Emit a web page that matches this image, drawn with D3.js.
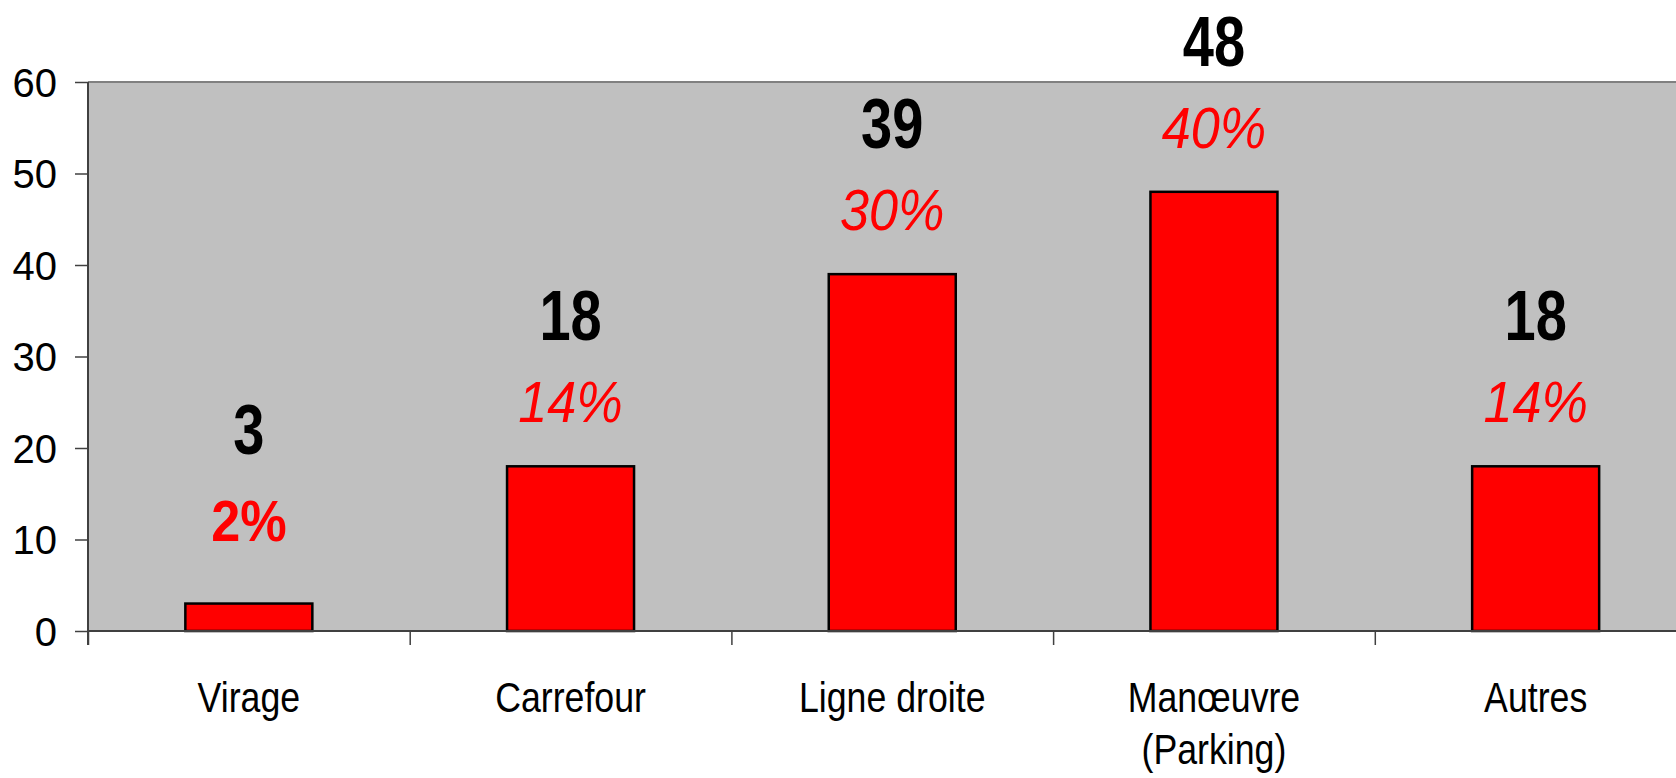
<!DOCTYPE html>
<html>
<head>
<meta charset="utf-8">
<script src="https://cdn.jsdelivr.net/npm/d3@7"></script>
<style>
  html, body { margin: 0; padding: 0; background: #fff; }
  svg { display: block; }
  text { font-family: "Liberation Sans", Arial, sans-serif; }
</style>
</head>
<body>
<div id="chart"></div>
<script>
// data
const categories = ["Virage", "Carrefour", "Ligne droite", "Manœuvre\n(Parking)", "Autres"];
const counts = [3, 18, 39, 48, 18];
const shares = ["2%", "14%", "30%", "40%", "14%"];
const yTicks = [0, 10, 20, 30, 40, 50, 60];

const W = 1676, H = 778;
const margin = {top: 82, left: 88, bottom: 147};
const band = 321.7;
const plotW = band * categories.length;
const plotH = H - margin.top - margin.bottom;

const svg = d3.select("#chart").append("svg")
  .attr("width", W)
  .attr("height", H);

const g = svg.append("g")
  .attr("transform", "translate(" + margin.left + "," + margin.top + ")");

const x = d3.scaleBand()
  .domain(d3.range(categories.length))
  .range([0, plotW]);

const xi = d3.scaleLinear()
  .domain([0, categories.length])
  .range([0, plotW]);

const y = d3.scaleLinear()
  .domain([0, 60])
  .range([plotH, 0]);

// plot background
g.append("rect")
  .attr("x", 0).attr("y", 0)
  .attr("width", plotW).attr("height", plotH)
  .attr("fill", "#c0c0c0");

g.append("line")
  .attr("x1", 0).attr("x2", plotW)
  .attr("y1", 0).attr("y2", 0)
  .attr("stroke", "#808080").attr("stroke-width", 2);

// y-axis
const yAxis = g.append("g")
  .call(d3.axisLeft(y).tickValues(yTicks).tickSize(13).tickPadding(18));
yAxis.select(".domain").remove();
yAxis.selectAll(".tick line").attr("stroke", "#404040").attr("stroke-width", 1.5);
yAxis.selectAll(".tick text")
  .attr("font-size", 40)
  .attr("fill", "#000")
  .attr("dy", "0.36em");

// x-axis ticks at band edges
const xAxis = g.append("g")
  .attr("transform", "translate(0," + plotH + ")")
  .call(d3.axisBottom(xi).tickValues(d3.range(categories.length + 1)).tickSize(14).tickFormat(""));
xAxis.select(".domain").remove();
xAxis.selectAll(".tick line").attr("stroke", "#404040").attr("stroke-width", 1.5);

// bars
const bw = 127;
g.selectAll(".bar")
  .data(counts)
  .join("rect")
  .attr("class", "bar")
  .attr("x", (d, i) => x(i) + x.bandwidth() / 2 - bw / 2)
  .attr("y", d => y(d))
  .attr("width", bw)
  .attr("height", d => plotH - y(d))
  .attr("fill", "#ff0000")
  .attr("stroke", "#000")
  .attr("stroke-width", 2.5);

// axis lines on top
g.append("line")
  .attr("x1", 0).attr("x2", plotW)
  .attr("y1", plotH).attr("y2", plotH)
  .attr("stroke", "#404040").attr("stroke-width", 2);
g.append("line")
  .attr("x1", 0).attr("x2", 0)
  .attr("y1", 0).attr("y2", plotH + 14)
  .attr("stroke", "#404040").attr("stroke-width", 2);

// value labels
counts.forEach((d, i) => {
  const cx = x(i) + x.bandwidth() / 2;
  const first = i === 0;
  g.append("g")
    .attr("transform", "translate(" + cx + "," + (y(d) - (first ? 150 : 126)) + ")")
    .append("text")
    .attr("transform", "scale(0.8,1)")
    .attr("text-anchor", "middle")
    .attr("font-size", 70)
    .attr("font-weight", "bold")
    .attr("fill", "#000")
    .text(d);
  g.append("g")
    .attr("transform", "translate(" + cx + "," + (y(d) - (first ? 63 : 44)) + ")")
    .append("text")
    .attr("transform", "scale(0.9,1)")
    .attr("text-anchor", "middle")
    .attr("font-size", 58)
    .attr("font-weight", first ? "bold" : "normal")
    .attr("font-style", first ? "normal" : "italic")
    .attr("fill", "#ff0000")
    .text(shares[i]);
});

// category labels
categories.forEach((c, i) => {
  const cx = x(i) + x.bandwidth() / 2;
  const lines = c.split("\n");
  lines.forEach((l, k) => {
    g.append("g")
      .attr("transform", "translate(" + cx + "," + (plotH + 81 + k * 52) + ")")
      .append("text")
      .attr("transform", "scale(0.85,1)")
      .attr("text-anchor", "middle")
      .attr("font-size", 42)
      .attr("fill", "#000")
      .text(l);
  });
});
</script>
</body>
</html>
